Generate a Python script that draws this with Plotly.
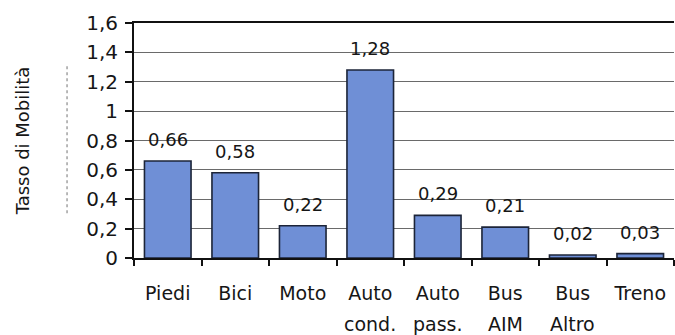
import plotly.graph_objects as go

# Mobility rate by transport mode
categories = ["Piedi", "Bici", "Moto", "Auto cond.", "Auto pass.", "Bus AIM", "Bus Altro", "Treno"]
label_line1 = ["Piedi", "Bici", "Moto", "Auto", "Auto", "Bus", "Bus", "Treno"]
label_line2 = ["", "", "", "cond.", "pass.", "AIM", "Altro", ""]
values = [0.66, 0.58, 0.22, 1.28, 0.29, 0.21, 0.02, 0.03]
y_ticks = [0, 0.2, 0.4, 0.6, 0.8, 1.0, 1.2, 1.4, 1.6]
y_tick_text = ["0", "0,2", "0,4", "0,6", "0,8", "1", "1,2", "1,4", "1,6"]

FONT = "DejaVu Sans, Verdana, sans-serif"
TEXT = "#161616"

fig = go.Figure()
fig.add_trace(go.Bar(
    x=categories,
    y=values,
    marker=dict(color="#6f8fd6", line=dict(color="#1c2438", width=1.6)),
    hoverinfo="x+y",
))

# value labels above each bar, comma decimal separator
for cat, v in zip(categories, values):
    fig.add_annotation(
        x=cat, y=v, xref="x", yref="y",
        text=f"{v:.2f}".replace(".", ","),
        showarrow=False, yanchor="bottom", yshift=9,
        font=dict(family=FONT, size=18, color=TEXT),
    )

# second row of the category labels
for cat, second in zip(categories, label_line2):
    if second:
        fig.add_annotation(
            x=cat, y=0, xref="x", yref="paper",
            text=second, showarrow=False, yanchor="top", yshift=-53,
            font=dict(family=FONT, size=19, color=TEXT),
        )

# faint dotted guide next to the axis title
fig.add_shape(
    type="line", xref="paper", yref="paper",
    x0=-0.124, x1=-0.124, y0=0.19, y1=0.82,
    line=dict(color="#8a8a8a", width=1.2, dash="dot"),
)

fig.update_layout(
    width=675, height=335,
    margin=dict(l=134, r=1, t=23, b=77),
    paper_bgcolor="white", plot_bgcolor="white",
    showlegend=False,
    bargap=0.31,
    font=dict(family=FONT, size=19, color=TEXT),
)

fig.update_xaxes(
    tickmode="array", tickvals=categories, ticktext=label_line1,
    tickson="boundaries", ticks="outside", ticklen=6, tickwidth=2, tickcolor="#111",
    showline=True, linecolor="#111", linewidth=2, mirror=True,
    showgrid=False, ticklabelstandoff=17,
    tickfont=dict(family=FONT, size=19, color=TEXT),
)

fig.update_yaxes(
    range=[0, 1.6], tickmode="array", tickvals=y_ticks, ticktext=y_tick_text,
    ticks="outside", ticklen=7, tickwidth=1.5, tickcolor="#111",
    showline=True, linecolor="#111", linewidth=2,
    showgrid=True, gridcolor="#6a6a6a", gridwidth=1.2,
    zeroline=False, ticklabelstandoff=3,
    tickfont=dict(family=FONT, size=20, color=TEXT),
    title=dict(text="Tasso di Mobilità", standoff=52,
               font=dict(family=FONT, size=18, color=TEXT)),
)

fig.write_html("out.html")
